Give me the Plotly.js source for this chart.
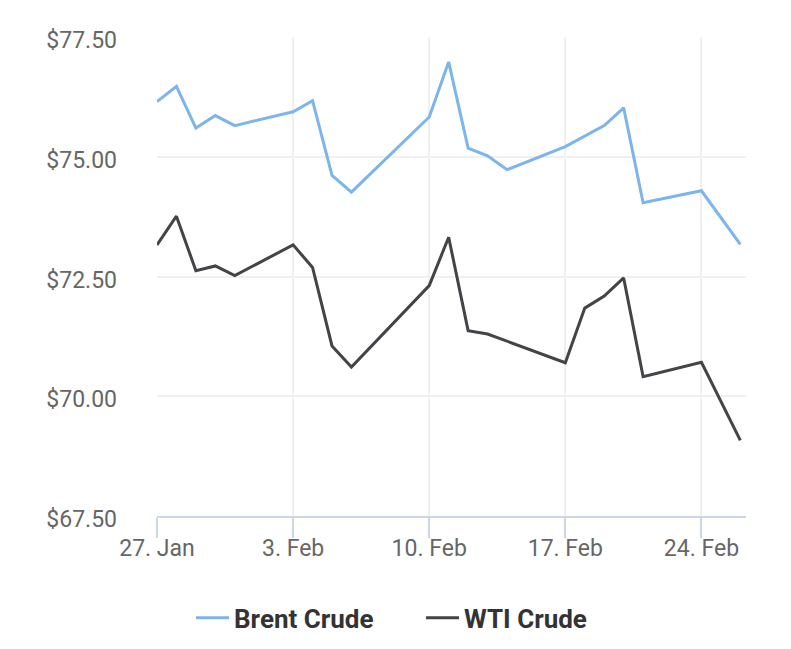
<!DOCTYPE html>
<html>
<head>
<meta charset="utf-8">
<script src="https://cdn.plot.ly/plotly-3.0.1.min.js"></script>
<style>
  html, body { margin: 0; padding: 0; background: #ffffff; }
  #chart { width: 791px; height: 649px; }
</style>
</head>
<body>
<div id="chart"></div>
<script>
const dates = ['2025-01-27','2025-01-28','2025-01-29','2025-01-30','2025-01-31',
  '2025-02-03','2025-02-04','2025-02-05','2025-02-06',
  '2025-02-10','2025-02-11','2025-02-12','2025-02-13','2025-02-14',
  '2025-02-17','2025-02-18','2025-02-19','2025-02-20','2025-02-21',
  '2025-02-24','2025-02-26'];
const brent = [76.15,76.47,75.60,75.86,75.65,
  75.94,76.17,74.61,74.26,
  75.83,76.98,75.18,75.02,74.73,
  75.21,75.43,75.65,76.02,74.04,
  74.29,73.17];
const wti = [73.16,73.76,72.62,72.72,72.52,
  73.16,72.69,71.05,70.61,
  72.31,73.32,71.37,71.30,71.15,
  70.70,71.84,72.09,72.47,70.41,
  70.71,69.08];
const seriesNames = ['Brent Crude','WTI Crude'];
const seriesColors = ['#7cb5ec','#434348'];

const traces = [brent, wti].map((vals, i) => ({
  type: 'scatter',
  mode: 'lines',
  x: dates,
  y: vals,
  name: seriesNames[i],
  line: {color: seriesColors[i], width: 3, shape: 'linear'},
  hoverinfo: 'x+y'
}));

const layout = {
  width: 791,
  height: 649,
  margin: {l: 157, r: 45, t: 37, b: 133},
  paper_bgcolor: '#ffffff',
  plot_bgcolor: '#ffffff',
  font: {family: 'Roboto, "Open Sans", sans-serif', color: '#666666', size: 23},
  showlegend: true,
  legend: {
    orientation: 'h',
    xref: 'container', yref: 'container',
    x: 0.2415, xanchor: 'left',
    y: 0.048, yanchor: 'middle',
    font: {family: 'Roboto, sans-serif', size: 26, color: '#333333', weight: 'bold'},
    itemwidth: 33,
    entrywidth: 182,
    entrywidthmode: 'pixels',
    tracegroupgap: 0
  },
  xaxis: {
    type: 'date',
    range: ['2025-01-27', '2025-02-26 07:00'],
    tick0: '2025-01-27',
    dtick: 7 * 24 * 3600 * 1000,
    tickformat: '%-d. %b',
    showgrid: true,
    gridcolor: '#f0f0f0',
    gridwidth: 2,
    showline: true,
    linecolor: '#ccd6eb',
    linewidth: 2,
    ticks: 'outside',
    ticklen: 20,
    tickwidth: 2,
    tickcolor: '#ccd6eb',
    ticklabelstandoff: -10,
    tickfont: {size: 23, color: '#666666'},
    zeroline: false,
    fixedrange: true
  },
  yaxis: {
    range: [67.5, 77.5],
    tick0: 67.5,
    dtick: 2.5,
    tickprefix: '$',
    tickformat: '.2f',
    showgrid: true,
    gridcolor: '#f0f0f0',
    gridwidth: 2,
    showline: false,
    zeroline: false,
    ticks: '',
    ticklabelstandoff: 39,
    ticklabelshift: 3,
    tickfont: {size: 23, color: '#666666'},
    fixedrange: true
  }
};

Plotly.newPlot('chart', traces, layout, {displayModeBar: false, staticPlot: true});
</script>
</body>
</html>
